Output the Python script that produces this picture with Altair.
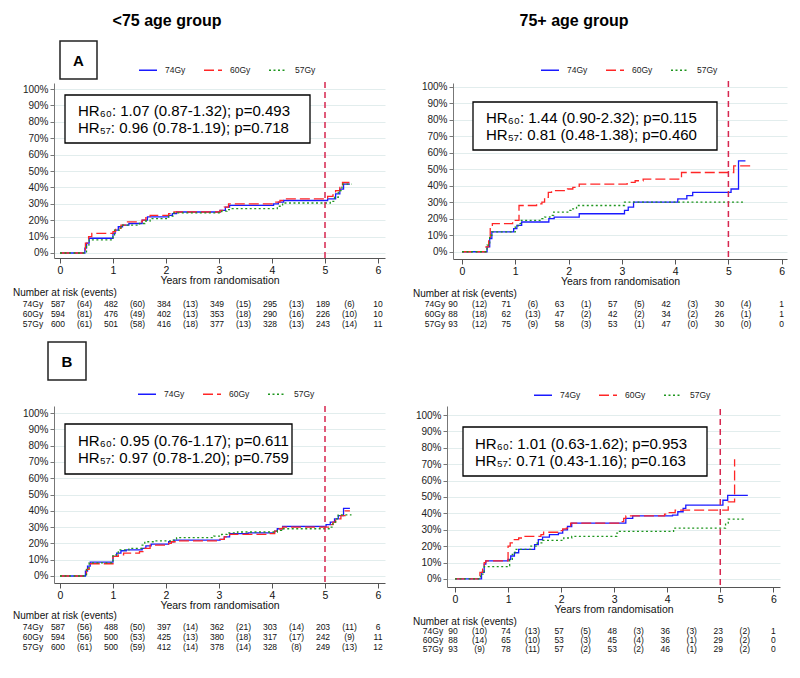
import altair as alt
import pandas as pd

SERIES = ["74Gy", "60Gy", "57Gy"]
SERIES_COLORS = ["#1a1aff", "#ff2626", "#1f961f"]
SERIES_DASH = [[1, 0], [10, 4], [2, 2.5]]

# ---------------- cumulative incidence curves (years, %) ----------------
lt75_A_74 = [[0, 0], [0.44, 0], [0.47, 3], [0.5, 6], [0.55, 9], [1.0, 12], [1.04, 14], [1.1, 16], [1.18, 17], [1.3, 18],
             [1.55, 20], [1.65, 22], [2.05, 23], [2.12, 24], [2.2, 25], [3.02, 26], [3.12, 28], [3.2, 29], [4.03, 30],
             [4.12, 31], [4.22, 32], [5.05, 33], [5.2, 36], [5.28, 39], [5.35, 42], [5.47, 42]]
lt75_A_60 = [[0, 0], [0.44, 0], [0.48, 6], [0.54, 10], [0.6, 12], [1.0, 13], [1.05, 15], [1.15, 17], [1.25, 19],
             [1.55, 20], [1.62, 21.5], [1.7, 23], [2.05, 24], [2.15, 25], [3.02, 26], [3.1, 28], [3.18, 30], [4.05, 31],
             [4.15, 32], [4.25, 33], [5.05, 34.5], [5.15, 35.5], [5.2, 38], [5.28, 41], [5.33, 43], [5.47, 43]]
lt75_A_57 = [[0, 0], [0.44, 0], [0.5, 5], [0.55, 8], [1.0, 10], [1.03, 14], [1.15, 17], [1.5, 18], [1.6, 19.5],
             [1.7, 21], [2.05, 22.5], [2.15, 24.5], [3.05, 25.5], [3.15, 26.5], [3.25, 27], [4.1, 28.5], [4.2, 30.5],
             [5.1, 31.5], [5.18, 34], [5.25, 38], [5.32, 42], [5.5, 42]]

p75_A_74 = [[0, 0], [0.42, 0], [0.47, 3], [0.52, 8], [0.56, 12], [0.97, 14], [1.03, 16], [1.12, 18], [1.63, 20],
            [1.73, 21], [2.2, 23], [3.05, 25], [3.12, 27], [3.22, 30], [4.05, 32], [4.22, 34], [4.33, 36], [5.05, 38],
            [5.19, 55], [5.32, 55]]
p75_A_60 = [[0, 0], [0.4, 0], [0.45, 3], [0.5, 8], [0.53, 14], [0.57, 17], [0.95, 18], [1.0, 19], [1.07, 28],
            [1.4, 29], [1.5, 30], [1.55, 33], [1.62, 36], [1.68, 37], [1.98, 38], [2.08, 39], [2.2, 41], [3.1, 42],
            [3.25, 43], [3.4, 44], [4.12, 48], [5.1, 52], [5.42, 52]]
p75_A_57 = [[0, 0], [0.4, 0], [0.47, 4], [0.52, 10], [0.56, 12], [1.0, 15], [1.05, 17], [1.1, 19], [1.5, 20],
            [1.55, 21], [1.65, 22], [1.72, 24], [2.0, 25], [2.05, 26], [2.15, 28], [3.05, 30], [5.3, 30]]

lt75_B_74 = [[0, 0], [0.44, 0], [0.48, 3], [0.52, 6], [0.57, 8.5], [1.0, 12], [1.07, 14], [1.15, 15.5], [1.25, 16],
             [1.55, 17], [1.62, 18.5], [1.72, 19.5], [2.05, 21], [2.15, 22], [3.02, 22.5], [3.1, 24], [3.2, 26],
             [3.55, 26.5], [4.05, 27.5], [4.1, 29], [4.2, 30.5], [5.02, 31.5], [5.1, 33], [5.18, 35], [5.25, 37],
             [5.35, 41.5], [5.47, 41.5]]
lt75_B_60 = [[0, 0], [0.44, 0], [0.5, 4], [0.55, 7.5], [1.0, 12], [1.1, 13], [1.2, 14], [1.5, 15], [1.6, 17],
             [1.7, 19], [2.05, 20], [2.1, 21], [2.2, 21.5], [3.02, 22.5], [3.1, 24], [3.2, 25.5], [3.95, 26],
             [4.05, 27.5], [4.12, 29], [4.2, 30], [5.08, 31.5], [5.15, 33], [5.2, 35], [5.3, 37], [5.38, 40],
             [5.47, 40]]
lt75_B_57 = [[0, 0], [0.44, 0], [0.5, 5], [0.55, 8], [1.0, 13], [1.1, 16], [1.3, 17], [1.55, 19], [1.6, 21],
             [1.8, 21.5], [2.1, 22], [2.2, 23.5], [2.9, 24.5], [3.05, 25.5], [3.15, 26.5], [3.35, 27], [4.1, 28],
             [4.18, 29], [5.1, 30], [5.15, 33], [5.2, 35], [5.25, 37.5], [5.5, 37.5]]

p75_B_74 = [[0, 0], [0.45, 0], [0.5, 4], [0.55, 9], [0.58, 11], [1.0, 12], [1.05, 14], [1.12, 16], [1.2, 18],
            [1.5, 21], [1.57, 24], [1.65, 25.5], [1.78, 27], [1.95, 28], [2.03, 30], [2.12, 32], [2.2, 34],
            [3.22, 37], [3.35, 38.5], [4.1, 39], [4.2, 41], [4.3, 43], [4.35, 45], [5.05, 48], [5.14, 51],
            [5.52, 51]]
p75_B_60 = [[0, 0], [0.42, 0], [0.47, 4], [0.52, 8], [0.55, 10], [0.58, 11], [1.0, 20], [1.04, 22], [1.1, 24],
            [1.2, 25], [1.27, 26], [1.62, 27], [1.67, 28.5], [1.98, 29.5], [2.03, 30.5], [2.1, 31], [2.18, 34],
            [3.1, 35], [3.18, 37], [3.22, 38.5], [3.95, 39.5], [4.02, 40.5], [4.15, 42], [5.15, 47], [5.27, 73]]
p75_B_57 = [[0, 0], [0.42, 0], [0.48, 3], [0.55, 7.5], [1.0, 8], [1.03, 12], [1.08, 15], [1.13, 18], [1.43, 20],
            [1.55, 22], [1.65, 23.5], [2.05, 25], [2.2, 26], [3.05, 28], [3.1, 29], [4.12, 31], [5.1, 34],
            [5.15, 36.5], [5.45, 36.5]]

# ---------------- number at risk (years 0..6) and events in each interval ----------------
lt75_A_risk = {"74Gy": [587, 482, 384, 349, 295, 189, 10], "60Gy": [594, 476, 402, 353, 290, 226, 10],
               "57Gy": [600, 501, 416, 377, 328, 243, 11]}
lt75_A_events = {"74Gy": [64, 60, 13, 15, 13, 6], "60Gy": [81, 49, 13, 18, 16, 10],
                 "57Gy": [61, 58, 18, 13, 13, 14]}
p75_A_risk = {"74Gy": [90, 71, 63, 57, 42, 30, 1], "60Gy": [88, 62, 47, 42, 34, 26, 1],
              "57Gy": [93, 75, 58, 53, 47, 30, 0]}
p75_A_events = {"74Gy": [12, 6, 1, 5, 3, 4], "60Gy": [18, 13, 2, 2, 2, 1], "57Gy": [12, 9, 3, 1, 0, 0]}
lt75_B_risk = {"74Gy": [587, 488, 397, 362, 303, 203, 6], "60Gy": [594, 500, 425, 380, 317, 242, 11],
               "57Gy": [600, 500, 412, 378, 328, 249, 12]}
lt75_B_events = {"74Gy": [56, 50, 14, 21, 14, 11], "60Gy": [56, 53, 13, 18, 17, 9],
                 "57Gy": [61, 59, 14, 14, 8, 13]}
p75_B_risk = {"74Gy": [90, 74, 57, 48, 36, 23, 1], "60Gy": [88, 65, 53, 45, 36, 29, 0],
              "57Gy": [93, 78, 57, 53, 46, 29, 0]}
p75_B_events = {"74Gy": [10, 13, 5, 3, 3, 2], "60Gy": [14, 10, 3, 4, 1, 2], "57Gy": [9, 11, 2, 2, 1, 2]}

HR_lt75_A = ["HR₆₀: 1.07 (0.87-1.32); p=0.493", "HR₅₇: 0.96 (0.78-1.19); p=0.718"]
HR_p75_A = ["HR₆₀: 1.44 (0.90-2.32); p=0.115", "HR₅₇: 0.81 (0.48-1.38); p=0.460"]
HR_lt75_B = ["HR₆₀: 0.95 (0.76-1.17); p=0.611", "HR₅₇: 0.97 (0.78-1.20); p=0.759"]
HR_p75_B = ["HR₆₀: 1.01 (0.63-1.62); p=0.953", "HR₅₇: 0.71 (0.43-1.16); p=0.163"]

FONT = "Liberation Sans, Arial, sans-serif"
NARROW = "Liberation Sans Narrow, Liberation Sans, Arial, sans-serif"


def txt(label):
    return pd.DataFrame({"label": [label]})


def make_panel(curves, hr, risk, events, cfg):
    W, H = cfg["W"], cfg["H"]
    xs = alt.Scale(domain=cfg["xdom"], nice=False, zero=False)
    ys = alt.Scale(domain=cfg["ydom"], nice=False, zero=False)
    x_axis = alt.Axis(values=list(range(7)), title="Years from randomisation", grid=False, tickSize=5,
                      labelFontSize=10.5, labelPadding=2, titleFontSize=10.5, titleFontWeight="normal",
                      titlePadding=0, domainColor="#555", tickColor="#555", labelColor="#111",
                      titleColor="#111", labelFont=FONT, titleFont=FONT)
    y_axis = alt.Axis(values=list(range(0, 101, 10)), labelExpr="datum.value + '%'", title=None, grid=True,
                      gridColor="#e2eded", tickSize=4, labelFontSize=10, labelPadding=2, domainColor="#777",
                      tickColor="#777", labelColor="#222", labelFont=FONT)
    x_enc = alt.X("t:Q", scale=xs, axis=x_axis)

    df = pd.DataFrame([{"series": s, "t": t, "v": v} for s in SERIES for t, v in curves[s]])
    leg = alt.Legend(orient="none", legendX=cfg["legX"], legendY=cfg["legY"], direction="horizontal",
                     title=None, symbolType="stroke", symbolSize=324, symbolStrokeWidth=1.5,
                     labelFontSize=8.5, labelFont=NARROW, labelOffset=7, columnPadding=15, padding=0,
                     labelColor="#222")
    layers = []
    rule = alt.Chart(pd.DataFrame({"t": [5]})).mark_rule(
        color="#d6264f", strokeDash=[6, 4], strokeWidth=1.5
    ).encode(x=x_enc, y=alt.value(cfg["ruleTop"]), y2=alt.value(H))
    lines = alt.Chart(df).mark_line(interpolate="step-after", strokeWidth=1.3).encode(
        x=x_enc,
        y=alt.Y("v:Q", scale=ys, axis=y_axis),
        color=alt.Color("series:N", scale=alt.Scale(domain=SERIES, range=SERIES_COLORS), legend=leg),
        strokeDash=alt.StrokeDash("series:N", scale=alt.Scale(domain=SERIES, range=SERIES_DASH), legend=leg),
    )
    layers += [lines, rule]

    bx0, by0, bx1, by1 = cfg["hrBox"]
    layers.append(alt.Chart(txt("")).mark_rect(fill="white", stroke="black", strokeWidth=1.3).encode(
        x=alt.value(bx0), x2=alt.value(bx1), y=alt.value(by0), y2=alt.value(by1)))
    for line, base in zip(hr, cfg["hrBase"]):
        layers.append(alt.Chart(txt(line)).mark_text(
            align="left", baseline="alphabetic", fontSize=15, font=FONT, color="black"
        ).encode(x=alt.value(cfg["hrX"]), y=alt.value(base), text="label:N"))

    if "title" in cfg:
        layers.append(alt.Chart(txt(cfg["title"])).mark_text(
            align="center", baseline="alphabetic", fontSize=16, fontWeight="bold", font=FONT, color="black"
        ).encode(x=alt.value(cfg["titleX"]), y=alt.value(-57), text="label:N"))
    if "tag" in cfg:
        tx0, ty0, tx1, ty1 = cfg["tagBox"]
        layers.append(alt.Chart(txt("")).mark_rect(fill="white", stroke="#222", strokeWidth=1.5).encode(
            x=alt.value(tx0), x2=alt.value(tx1), y=alt.value(ty0), y2=alt.value(ty1)))
        layers.append(alt.Chart(txt(cfg["tag"])).mark_text(
            align="center", baseline="middle", fontSize=15, fontWeight="bold", font=FONT, color="black"
        ).encode(x=alt.value((tx0 + tx1) / 2), y=alt.value((ty0 + ty1) / 2 + 1), text="label:N"))

    # number-at-risk table
    ppy = W / (cfg["xdom"][1] - cfg["xdom"][0])
    shift = cfg["tabShift"] / ppy
    rows = []
    for s in SERIES:
        for i, n in enumerate(risk[s]):
            rows.append({"series": s, "t": i + (shift if i < 6 else 0), "label": str(n)})
        for i, e in enumerate(events[s]):
            rows.append({"series": s, "t": i + 0.5 + shift, "label": f"({e})"})
    tab = pd.DataFrame(rows)
    layers.append(alt.Chart(txt("Number at risk (events)")).mark_text(
        align="left", baseline="middle", fontSize=10, font=FONT, color="#111"
    ).encode(x=alt.value(cfg["headX"]), y=alt.value(cfg["headY"]), text="label:N"))
    for s, ry in zip(SERIES, cfg["rowY"]):
        layers.append(alt.Chart(tab).transform_filter(alt.datum.series == s).mark_text(
            align="center", baseline="middle", fontSize=8.5, font=NARROW, color="#111"
        ).encode(x=x_enc, y=alt.value(ry), text="label:N"))
        layers.append(alt.Chart(txt(s)).mark_text(
            align="center", baseline="middle", fontSize=8.5, font=NARROW, color="#111"
        ).encode(x=alt.value(cfg["rowLabX"]), y=alt.value(ry), text="label:N"))

    return alt.layer(*layers).properties(width=W, height=H)


cfg_A_l = dict(W=331, H=175, xdom=[-0.113, 6.132], ydom=[-3.05, 103.66], legX=84, legY=-23, ruleTop=-1,
               hrBox=(11, 12, 256, 60), hrX=24, hrBase=(33, 50), title="<75 age group", titleX=113,
               tag="A", tagBox=(6, -42, 43, -4), tabShift=-2, headX=-41, headY=210, rowY=(221, 231, 241),
               rowLabX=-21)
cfg_A_r = dict(W=334, H=176, xdom=[-0.169, 6.10], ydom=[-4.4, 102.2], legX=87, legY=-23, ruleTop=-2,
               hrBox=(20, 19, 264, 67), hrX=33, hrBase=(40, 57), title="75+ age group", titleX=121,
               tabShift=-9, headX=-40, headY=211, rowY=(221, 231, 241), rowLabX=-18)
cfg_B_l = dict(W=331, H=177, xdom=[-0.113, 6.132], ydom=[-4.3, 104.3], legX=83, legY=-22, ruleTop=0,
               hrBox=(11, 18, 238, 68), hrX=24, hrBase=(40, 57), tag="B", tagBox=(-6, -64, 32, -26),
               tabShift=-2, headX=-41, headY=210, rowY=(221, 231, 241), rowLabX=-21)
cfg_B_r = dict(W=333, H=181, xdom=[-0.151, 6.126], ydom=[-4.9, 105.5], legX=86, legY=-21, ruleTop=3,
               hrBox=(16, 21, 260, 70), hrX=28, hrBase=(43, 60), tabShift=-2, headX=-34, headY=216,
               rowY=(225, 234, 243), rowLabX=-14)

pA_l = make_panel({"74Gy": lt75_A_74, "60Gy": lt75_A_60, "57Gy": lt75_A_57}, HR_lt75_A, lt75_A_risk,
                  lt75_A_events, cfg_A_l)
pA_r = make_panel({"74Gy": p75_A_74, "60Gy": p75_A_60, "57Gy": p75_A_57}, HR_p75_A, p75_A_risk,
                  p75_A_events, cfg_A_r)
pB_l = make_panel({"74Gy": lt75_B_74, "60Gy": lt75_B_60, "57Gy": lt75_B_57}, HR_lt75_B, lt75_B_risk,
                  lt75_B_events, cfg_B_l)
pB_r = make_panel({"74Gy": p75_B_74, "60Gy": p75_B_60, "57Gy": p75_B_57}, HR_p75_B, p75_B_risk,
                  p75_B_events, cfg_B_r)


def indep(c):
    return c.resolve_scale(color="independent", strokeDash="independent").resolve_legend(
        color="independent", strokeDash="independent")


top = indep(alt.hconcat(pA_l, pA_r, spacing=28))
bottom = indep(alt.hconcat(pB_l, pB_r, spacing=28))
chart = indep(alt.vconcat(top, bottom, spacing=12)).properties(padding=5).configure_view(stroke=None)

chart.save("out.html", embed_options={"renderer": "svg", "actions": False})
